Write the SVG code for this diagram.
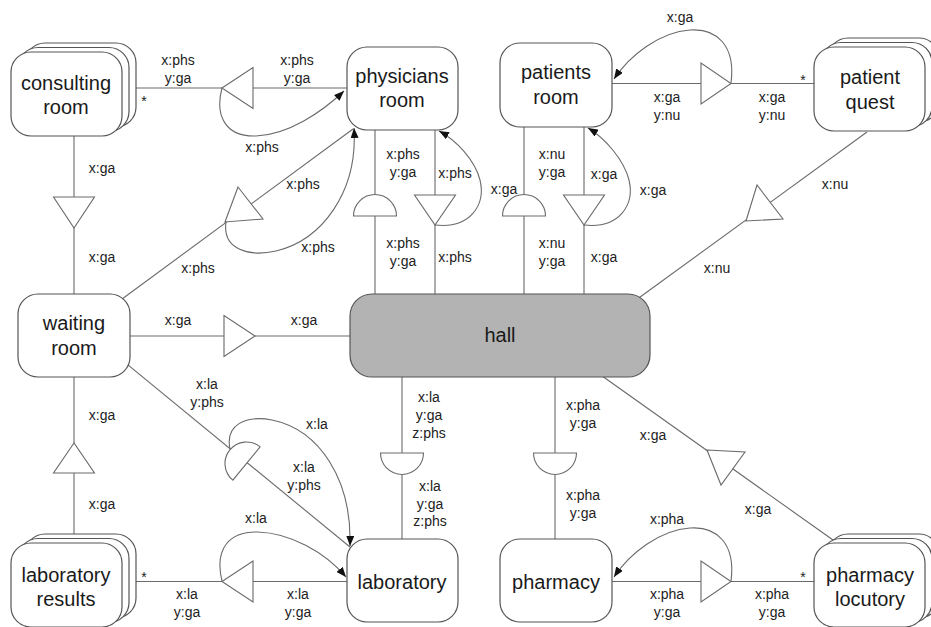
<svg xmlns="http://www.w3.org/2000/svg" width="931" height="627" viewBox="0 0 931 627">
  <style>
    .node { fill: #ffffff; stroke: #555555; stroke-width: 1.2; }
    .hall { fill: #b3b3b3; stroke: #555555; stroke-width: 1.2; }
    .name { font-family: "Liberation Sans", Arial, sans-serif; font-size: 20px; fill: #1a1a1a; text-anchor: middle; dominant-baseline: central; }
    .edge { fill: none; stroke: #6a6a6a; stroke-width: 1.1; }
    .sym { fill: #ffffff; stroke: #6a6a6a; stroke-width: 1.1; }
    .lbl { font-family: "Liberation Sans", Arial, sans-serif; font-size: 14px; fill: #222222; text-anchor: middle; dominant-baseline: central; }
    .star { font-family: "Liberation Sans", Arial, sans-serif; font-size: 14px; fill: #222222; text-anchor: middle; }
  </style>
  <defs>
    <marker id="arr" viewBox="0 0 10 8" refX="10" refY="4" markerWidth="10" markerHeight="8" orient="auto" markerUnits="userSpaceOnUse">
      <path d="M0,0 L10,4 L0,8 Z" fill="#111111"/>
    </marker>
    <rect id="card" width="111" height="84" rx="20" ry="20"/>
  </defs>
  <rect width="931" height="627" fill="#ffffff"/>

  <g id="connectors">
    <!-- consulting room / physicians room -->
    <line class="edge" x1="122" y1="88" x2="347" y2="88"/>
    <path class="edge" d="M222,88 C215,114 224,137 256,136 C288,135 322,112 344,91" marker-end="url(#arr)"/>
    <polygon class="sym" points="222,88 253,67.5 253,108.5"/>

    <!-- consulting room / waiting room -->
    <line class="edge" x1="74" y1="136" x2="74" y2="294"/>
    <polygon class="sym" points="53.5,197 94.5,197 74,228"/>

    <!-- waiting room / physicians room -->
    <line class="edge" x1="118" y1="302" x2="353" y2="129"/>
    <path class="edge" d="M226,222 C222,250 250,257 276,251 C322,240 358,192 354,128" marker-end="url(#arr)"/>
    <polygon class="sym" points="238,187 225,222 263,219"/>

    <!-- physicians room / hall -->
    <line class="edge" x1="375" y1="130" x2="375" y2="294"/>
    <path class="sym" d="M353.5,216 A21.5,21.5 0 0 1 396.5,216 Z"/>
    <line class="edge" x1="435" y1="130" x2="435" y2="294"/>
    <path class="edge" d="M435,225 C470,229 486,205 480,180 C475,160 456,140 439,131" marker-end="url(#arr)"/>
    <polygon class="sym" points="414.5,195 455.5,195 435,225"/>

    <!-- patients room / hall -->
    <line class="edge" x1="524" y1="127" x2="524" y2="294"/>
    <path class="sym" d="M502.5,216 A21.5,21.5 0 0 1 545.5,216 Z"/>
    <line class="edge" x1="584" y1="127" x2="584" y2="294"/>
    <path class="edge" d="M584,225 C619,229 635,205 629,180 C624,160 605,138 588,128" marker-end="url(#arr)"/>
    <polygon class="sym" points="563.5,195 604.5,195 584,225"/>

    <!-- patient quest / patients room -->
    <line class="edge" x1="612" y1="83.5" x2="814" y2="83.5"/>
    <path class="edge" d="M731,83 C736,45 716,28 690,30 C660,32 630,55 614,79" marker-end="url(#arr)"/>
    <polygon class="sym" points="701,63 701,104 731,83.5"/>

    <!-- patient quest / hall -->
    <line class="edge" x1="867" y1="132" x2="636" y2="300"/>
    <polygon class="sym" points="757,185 746,221 783,219"/>

    <!-- waiting room / hall -->
    <line class="edge" x1="130" y1="336" x2="350" y2="336"/>
    <polygon class="sym" points="224,315.5 224,356.5 255,336"/>

    <!-- waiting room / laboratory -->
    <line class="edge" x1="120" y1="358.4" x2="350" y2="547"/>
    <path class="edge" d="M230,449 C225,425 245,415 272,420 C320,430 352,480 350,546" marker-end="url(#arr)"/>
    <path class="sym" transform="translate(246.5,463.5) rotate(39.4)" d="M0,-21.5 A21.5,21.5 0 0 0 0,21.5 Z"/>

    <!-- hall / laboratory -->
    <line class="edge" x1="402" y1="377" x2="402" y2="539"/>
    <path class="sym" d="M380.5,453 A21.5,21.5 0 0 0 423.5,453 Z"/>

    <!-- hall / pharmacy -->
    <line class="edge" x1="555" y1="377" x2="555" y2="539"/>
    <path class="sym" d="M533.5,453 A21.5,21.5 0 0 0 576.5,453 Z"/>

    <!-- pharmacy locutory / hall -->
    <line class="edge" x1="833" y1="540" x2="600" y2="374.5"/>
    <polygon class="sym" points="707,450 745,452 721,485"/>

    <!-- pharmacy locutory / pharmacy -->
    <line class="edge" x1="612" y1="581.5" x2="814" y2="581.5"/>
    <path class="edge" d="M731,581 C736,543 716,526 690,528 C660,530 630,553 614,577" marker-end="url(#arr)"/>
    <polygon class="sym" points="701,561 701,602 731,581.5"/>

    <!-- laboratory results / waiting room -->
    <line class="edge" x1="74" y1="377" x2="74" y2="540"/>
    <polygon class="sym" points="74,443 53.5,473 94.5,473"/>

    <!-- laboratory / laboratory results -->
    <line class="edge" x1="122" y1="581.5" x2="347" y2="581.5"/>
    <path class="edge" d="M222,581 C214,548 230,531 258,532 C290,533 325,552 346,577" marker-end="url(#arr)"/>
    <polygon class="sym" points="222,581.5 253,561 253,602"/>
  </g>

  <g id="edge-labels">
    <text class="lbl" x="178" y="60">x:phs<tspan x="178" dy="18">y:ga</tspan></text>
    <text class="lbl" x="297" y="60">x:phs<tspan x="297" dy="18">y:ga</tspan></text>
    <text class="lbl" x="262" y="147">x:phs</text>
    <text class="star" x="144" y="106">*</text>

    <text class="lbl" x="102" y="168">x:ga</text>
    <text class="lbl" x="102" y="257">x:ga</text>

    <text class="lbl" x="303" y="184">x:phs</text>
    <text class="lbl" x="318" y="247">x:phs</text>
    <text class="lbl" x="198" y="268">x:phs</text>

    <text class="lbl" x="403" y="154">x:phs<tspan x="403" dy="18">y:ga</tspan></text>
    <text class="lbl" x="455" y="173">x:phs</text>
    <text class="lbl" x="403" y="243">x:phs<tspan x="403" dy="18">y:ga</tspan></text>
    <text class="lbl" x="455" y="257">x:phs</text>

    <text class="lbl" x="504" y="189">x:ga</text>
    <text class="lbl" x="552" y="154">x:nu<tspan x="552" dy="18">y:ga</tspan></text>
    <text class="lbl" x="604" y="174">x:ga</text>
    <text class="lbl" x="552" y="243">x:nu<tspan x="552" dy="18">y:ga</tspan></text>
    <text class="lbl" x="604" y="257">x:ga</text>
    <text class="lbl" x="653" y="190">x:ga</text>

    <text class="lbl" x="680" y="17">x:ga</text>
    <text class="lbl" x="667" y="97">x:ga<tspan x="667" dy="18">y:nu</tspan></text>
    <text class="lbl" x="772" y="97">x:ga<tspan x="772" dy="18">y:nu</tspan></text>
    <text class="star" x="803" y="85">*</text>

    <text class="lbl" x="835" y="184">x:nu</text>
    <text class="lbl" x="717" y="268">x:nu</text>

    <text class="lbl" x="178" y="320">x:ga</text>
    <text class="lbl" x="304" y="320">x:ga</text>

    <text class="lbl" x="207" y="384">x:la<tspan x="207" dy="18">y:phs</tspan></text>
    <text class="lbl" x="317" y="424">x:la</text>
    <text class="lbl" x="304" y="467">x:la<tspan x="304" dy="18">y:phs</tspan></text>

    <text class="lbl" x="429" y="397">x:la<tspan x="429" dy="18">y:ga</tspan><tspan x="429" dy="18">z:phs</tspan></text>
    <text class="lbl" x="430" y="486">x:la<tspan x="430" dy="17.5">y:ga</tspan><tspan x="430" dy="17.5">z:phs</tspan></text>

    <text class="lbl" x="583" y="405">x:pha<tspan x="583" dy="18">y:ga</tspan></text>
    <text class="lbl" x="583" y="495">x:pha<tspan x="583" dy="18">y:ga</tspan></text>

    <text class="lbl" x="653" y="435">x:ga</text>
    <text class="lbl" x="758" y="509">x:ga</text>

    <text class="lbl" x="667" y="519">x:pha</text>
    <text class="lbl" x="667" y="594">x:pha<tspan x="667" dy="18">y:ga</tspan></text>
    <text class="lbl" x="772" y="594">x:pha<tspan x="772" dy="18">y:ga</tspan></text>
    <text class="star" x="803" y="582">*</text>

    <text class="lbl" x="102" y="415">x:ga</text>
    <text class="lbl" x="102" y="504">x:ga</text>

    <text class="lbl" x="256" y="518">x:la</text>
    <text class="lbl" x="187" y="594">x:la<tspan x="187" dy="18">y:ga</tspan></text>
    <text class="lbl" x="298" y="594">x:la<tspan x="298" dy="18">y:ga</tspan></text>
    <text class="star" x="144" y="582">*</text>
  </g>

  <g id="consulting-room">
    <use href="#card" class="node" x="25" y="43"/>
    <use href="#card" class="node" x="18" y="47.5"/>
    <use href="#card" class="node" x="11" y="52"/>
    <text class="name" x="66" y="83">consulting</text>
    <text class="name" x="66" y="107">room</text>
  </g>

  <g id="physicians-room">
    <rect class="node" x="347" y="47" width="111" height="83" rx="20" ry="20"/>
    <text class="name" x="402" y="76">physicians</text>
    <text class="name" x="402" y="100">room</text>
  </g>

  <g id="patients-room">
    <rect class="node" x="500" y="43" width="112" height="84" rx="20" ry="20"/>
    <text class="name" x="556" y="72">patients</text>
    <text class="name" x="556" y="97">room</text>
  </g>

  <g id="patient-quest">
    <use href="#card" class="node" x="828" y="38"/>
    <use href="#card" class="node" x="821" y="42.5"/>
    <use href="#card" class="node" x="814" y="47"/>
    <text class="name" x="870" y="77">patient</text>
    <text class="name" x="870" y="102">quest</text>
  </g>

  <g id="waiting-room">
    <rect class="node" x="18" y="294" width="112" height="83" rx="20" ry="20"/>
    <text class="name" x="74" y="323">waiting</text>
    <text class="name" x="74" y="348">room</text>
  </g>

  <g id="hall">
    <rect class="hall" x="350" y="294" width="300" height="83" rx="22" ry="22"/>
    <text class="name" x="500" y="335">hall</text>
  </g>

  <g id="laboratory-results">
    <use href="#card" class="node" x="25" y="534"/>
    <use href="#card" class="node" x="18" y="538.5"/>
    <use href="#card" class="node" x="11" y="543"/>
    <text class="name" x="66" y="575">laboratory</text>
    <text class="name" x="66" y="599">results</text>
  </g>

  <g id="laboratory">
    <rect class="node" x="347" y="539" width="111" height="83" rx="20" ry="20"/>
    <text class="name" x="402" y="582">laboratory</text>
  </g>

  <g id="pharmacy">
    <rect class="node" x="500" y="539" width="112" height="83" rx="20" ry="20"/>
    <text class="name" x="556" y="582">pharmacy</text>
  </g>

  <g id="pharmacy-locutory">
    <use href="#card" class="node" x="828" y="534"/>
    <use href="#card" class="node" x="821" y="538.5"/>
    <use href="#card" class="node" x="814" y="543"/>
    <text class="name" x="870" y="575">pharmacy</text>
    <text class="name" x="870" y="599">locutory</text>
  </g>
</svg>
